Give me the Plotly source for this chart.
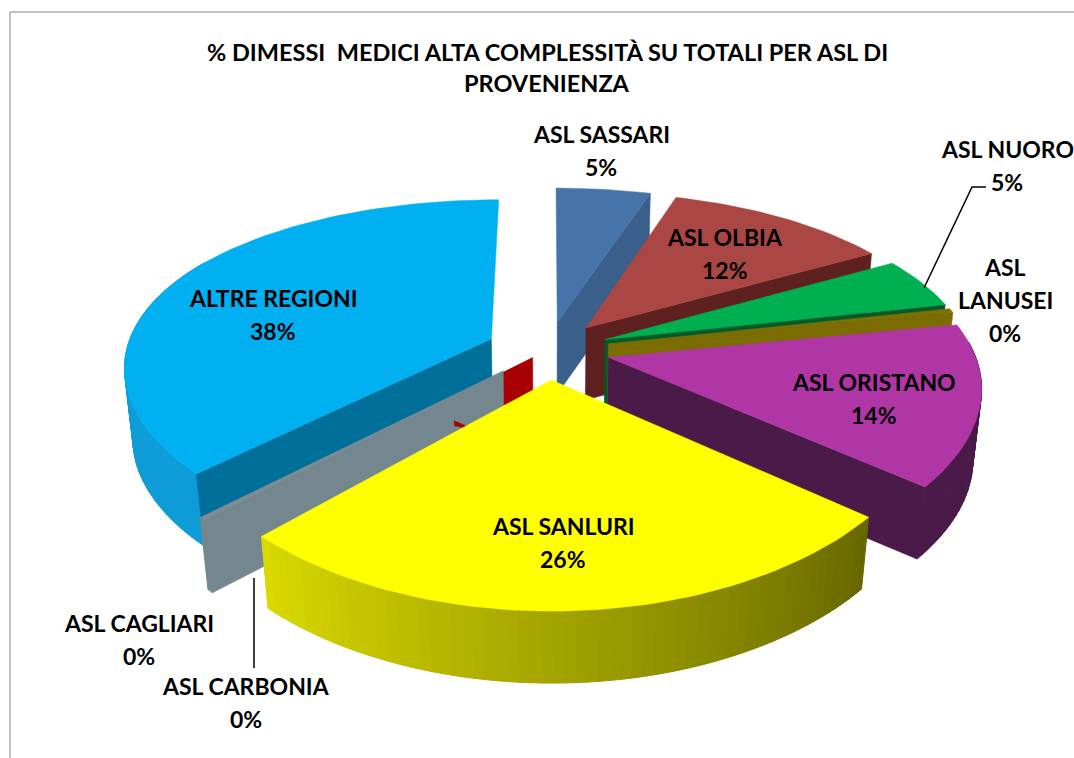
import math
import plotly.graph_objects as go

# ---- data (clockwise from 12 o'clock) ----
names = ["ASL SASSARI", "ASL OLBIA", "ASL NUORO", "ASL LANUSEI", "ASL ORISTANO",
         "ASL SANLURI", "ASL CARBONIA", "ASL CAGLIARI", "ALTRE REGIONI"]
values = [4.9, 11.8, 4.9, 0.4, 14.4, 26.0, 0.3, 0.3, 37.5]
title_lines = ["% DIMESSI  MEDICI ALTA COMPLESSITÀ SU TOTALI PER ASL DI", "PROVENIENZA"]

# ---- style ----
explode = [.17, .17, .17, .17, .17, .17, .06, .17, .17]
top_col = ["#4674AA", "#AA4643", "#00B050", "#7F7000", "#B035A5", "#FFFF00", "#A80000", "#7F8C93", "#00B0F0"]
face_col = ["#3A5F8B", "#5E2120", "#005A2A", "#7A6C00", "#4A1A48", "#666600", "#A80000", "#74878F", "#006F99"]
outer_col = ["#3A5F8B", "#5E2120", "#005A2A", "#7A6C00", "#4A1A48", None, "#A80000", "#74878F", "#0E9CD8"]
paint_order = [0, 1, 2, 3, 4, 8, 6, 7, 5]
CX, CY, A, B, KX, KY, SHR, WALL = 548.0, 350.0, 365.0, 171.0, 0.15, 0.2, 0.02, 72.0
FONT = "Lato"
RED, GREY = 6, 7


def proj(u, v, s=0.0):
    """s is the height fraction: 0 on the top face, 1 on the base."""
    x = CX + A * u / (1 + KX * v + SHR * s)
    y = CY - B * v / (1 + KY * v) + WALL * s
    return x, y


def pt(apex, r, th, s=0.0):
    a = math.radians(th)
    return proj(apex[0] + r * math.sin(a), apex[1] + r * math.cos(a), s)


fig = go.Figure()


def poly(pts, col, lw=0.0):
    xs = [p[0] for p in pts] + [pts[0][0]]
    ys = [p[1] for p in pts] + [pts[0][1]]
    fig.add_trace(go.Scatter(x=xs, y=ys, mode="lines", fill="toself", fillcolor=col,
                             line=dict(color=col, width=lw), hoverinfo="skip", showlegend=False))


def lerp(c0, c1, t):
    return "rgb(%d,%d,%d)" % tuple(round(a + (b - a) * t) for a, b in zip(c0, c1))


total = sum(values)
angles = []
acc = 0.0
for v in values:
    angles.append((acc / total * 360, (acc + v) / total * 360))
    acc += v


def apex_of(i):
    m = math.radians(sum(angles[i]) / 2)
    return explode[i] * math.sin(m), explode[i] * math.cos(m)


for i in paint_order:
    s, e = angles[i]
    ap = apex_of(i)
    if i == RED:
        # only the inner part of this thin wedge's wall shows
        th = s
        poly([pt(ap, 0, th), pt(ap, .4, th), pt(ap, .4, th, 1), pt(ap, 0, th, 1)], face_col[i], 0.5)
        continue
    # outer wall
    lo, hi = max(s, 85.0), min(e, 300.0)
    if hi > lo:
        n = max(2, int((hi - lo) / 1.5))
        for j in range(n):
            t0, t1 = lo + (hi - lo) * j / n, lo + (hi - lo) * (j + 1) / n
            quad = [pt(ap, 1, t0), pt(ap, 1, t1), pt(ap, 1, t1, 1), pt(ap, 1, t0, 1)]
            col = outer_col[i] or lerp((102, 102, 0), (218, 218, 0), (j + .5) / n)
            poly(quad, col, 1)
    # radial walls
    for th, show in ((s, s > 180), (e, e < 180)):
        if show:
            poly([proj(*ap), pt(ap, 1, th), pt(ap, 1, th, 1), proj(ap[0], ap[1], 1)], face_col[i], 0.5)
    # top
    n = max(2, int((e - s) / 1.5))
    rim = [pt(ap, 1, s + (e - s) * j / n) for j in range(n + 1)]
    poly([proj(*ap)] + rim, top_col[i], 0.5)
    if i == GREY:
        # thin sliver of the neighbouring red wall that shows through on the grey one
        ra, rs = apex_of(RED), angles[RED][0]
        poly([pt(ra, .23, rs, .58), pt(ra, .30, rs, .33), pt(ra, .30, rs, .40)], face_col[RED], 0.5)

# frame
fig.add_shape(type="line", xref="x", yref="y", x0=10, x1=10, y0=12, y1=758, line=dict(color="#868686", width=1))
fig.add_shape(type="line", xref="x", yref="y", x0=10, x1=1074, y0=12, y1=12, line=dict(color="#868686", width=1))
# leader lines
fig.add_trace(go.Scatter(x=[986, 972, 924], y=[187, 187, 288], mode="lines", line=dict(color="black", width=1.5),
                         hoverinfo="skip", showlegend=False))
fig.add_trace(go.Scatter(x=[254, 254], y=[578, 668], mode="lines", line=dict(color="black", width=1.5),
                         hoverinfo="skip", showlegend=False))


def txt(x, y, s, size=23):
    fig.add_annotation(x=x, y=y, text="<b>%s</b>" % s, showarrow=False, xref="x", yref="y",
                       xanchor="center", yanchor="middle", font=dict(family=FONT, size=size, color="black"))


txt(547, 52, title_lines[0], 23.5)
txt(547, 83, title_lines[1], 23.5)
pct = [("%d%%" % round(v)) for v in values]
pos = [(601, 134), (725, 237), (1007, 149), (1005, 267), (874, 382), (563, 526), (246, 686), (139, 623), (273, 298)]
LH = 33
for nm, p, (x, y) in zip(names, pct, pos):
    parts = nm.split(" ") if nm == "ASL LANUSEI" else [nm]
    for k, line in enumerate(parts + [p]):
        txt(x, y + k * LH, line)

fig.update_layout(width=1074, height=758, margin=dict(l=0, r=0, t=0, b=0),
                  paper_bgcolor="white", plot_bgcolor="white", showlegend=False,
                  xaxis=dict(range=[0, 1074], visible=False, fixedrange=True),
                  yaxis=dict(range=[758, 0], visible=False, fixedrange=True))
fig.write_html("out.html", config={"displayModeBar": False},
               post_script="document.body.style.margin='0';document.body.style.overflow='hidden';")
